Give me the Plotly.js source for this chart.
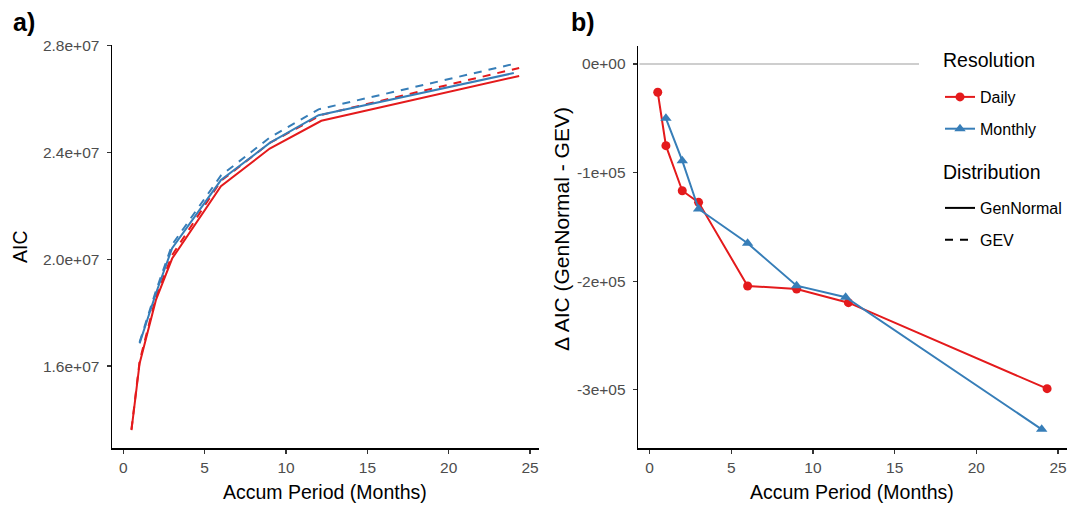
<!DOCTYPE html>
<html>
<head>
<meta charset="utf-8">
<script src="https://cdn.plot.ly/plotly-3.0.1.min.js"></script>
<style>html,body{margin:0;padding:0;background:#fff;}#chart{width:1075px;height:510px;}</style>
</head>
<body>
<div id="chart"></div>
<script>
// Accumulation periods (months)
const dailyPeriods = [0.5, 1, 2, 3, 6, 9, 12.17, 24.33];
const monthlyPeriods = [1, 2, 3, 6, 9, 12, 24];

// Panel a) AIC values
const aicDailyGenNormal = [13600000, 16100000, 18470000, 20030000, 22740000, 24150000, 25190000, 26870000];
const aicDailyGEV = [13630000, 16180000, 18590000, 20160000, 22940000, 24360000, 25410000, 27170000];
const aicMonthlyGenNormal = [16850000, 18720000, 20420000, 22970000, 24360000, 25400000, 26980000];
const aicMonthlyGEV = [16900000, 18810000, 20550000, 23140000, 24560000, 25620000, 27320000];

// Panel b) Delta AIC (GenNormal - GEV)
const deltaDaily = [-26000, -75200, -116700, -127400, -204400, -207200, -219800, -299000];
const deltaMonthly = [-50000, -89000, -133500, -165100, -204100, -214800, -336400];

// Tick labels
const aicTicks = [16000000, 20000000, 24000000, 28000000];
const aicTickText = ['1.6e+07', '2.0e+07', '2.4e+07', '2.8e+07'];
const deltaTicks = [0, -100000, -200000, -300000];
const deltaTickText = ['0e+00', '-1e+05', '-2e+05', '-3e+05'];
const xTicks = [0, 5, 10, 15, 20, 25];

const RED = '#E41A1C', BLUE = '#377EB8';
const FONT = 'Liberation Sans, Arial, sans-serif';
const W = 1075, H = 510;
const LW = 2;

const traces = [
  {x: dailyPeriods, y: aicDailyGenNormal, mode: 'lines', line: {color: RED, width: LW}, xaxis: 'x', yaxis: 'y', showlegend: false},
  {x: dailyPeriods, y: aicDailyGEV, mode: 'lines', line: {color: RED, width: LW, dash: '8px,7px'}, xaxis: 'x', yaxis: 'y', showlegend: false},
  {x: monthlyPeriods, y: aicMonthlyGenNormal, mode: 'lines', line: {color: BLUE, width: LW}, xaxis: 'x', yaxis: 'y', showlegend: false},
  {x: monthlyPeriods, y: aicMonthlyGEV, mode: 'lines', line: {color: BLUE, width: LW, dash: '8px,7px'}, xaxis: 'x', yaxis: 'y', showlegend: false},
  {x: dailyPeriods, y: deltaDaily, name: 'Daily', mode: 'lines+markers', line: {color: RED, width: LW}, marker: {symbol: 'circle', size: 9, color: RED}, xaxis: 'x2', yaxis: 'y2', legend: 'legend', legendgroup: 'daily'},
  {x: monthlyPeriods, y: deltaMonthly, name: 'Monthly', mode: 'lines+markers', line: {color: BLUE, width: LW}, marker: {symbol: 'triangle-up', size: 10, color: BLUE}, xaxis: 'x2', yaxis: 'y2', legend: 'legend', legendgroup: 'monthly'},
  {x: [null], y: [null], name: 'GenNormal', mode: 'lines', line: {color: '#000', width: LW}, xaxis: 'x2', yaxis: 'y2', legend: 'legend2', legendgroup: 'gn'},
  {x: [null], y: [null], name: 'GEV', mode: 'lines', line: {color: '#000', width: LW, dash: '8px,7px'}, xaxis: 'x2', yaxis: 'y2', legend: 'legend2', legendgroup: 'gev'}
];

const axisCommon = {
  showgrid: false, zeroline: false, showline: true, linecolor: '#000', linewidth: 1.6,
  ticks: 'outside', ticklen: 4, tickwidth: 1.3, tickcolor: '#333',
  tickfont: {family: FONT, size: 15.5, color: '#4D4D4D'}, fixedrange: true
};

function ann(text, x, y, size, angle) {
  return {text: text, xref: 'paper', yref: 'paper', x: x / W, y: 1 - y / H, xanchor: 'center', yanchor: 'middle',
          textangle: angle || 0, showarrow: false, font: {family: FONT, size: size, color: '#000'}};
}

const layout = {
  width: W, height: H,
  margin: {l: 0, r: 0, t: 0, b: 0},
  paper_bgcolor: '#fff', plot_bgcolor: '#fff',
  font: {family: FONT},
  xaxis: Object.assign({}, axisCommon, {domain: [112.1 / W, 538.7 / W], range: [-0.69, 25.53], tickvals: xTicks, anchor: 'y'}),
  yaxis: Object.assign({}, axisCommon, {domain: [1 - 448.3 / H, 1 - 45 / H], range: [12920000, 28030000], tickvals: aicTicks, ticktext: aicTickText, anchor: 'x', ticklabelstandoff: 4}),
  xaxis2: Object.assign({}, axisCommon, {domain: [638.3 / W, 1066.7 / W], range: [-0.69, 25.53], tickvals: xTicks, anchor: 'y2'}),
  yaxis2: Object.assign({}, axisCommon, {domain: [1 - 448.3 / H, 1 - 46 / H], range: [-353900, 16600], tickvals: deltaTicks, ticktext: deltaTickText, anchor: 'x2', ticklabelstandoff: 4}),
  shapes: [
    {type: 'line', xref: 'paper', yref: 'y2', x0: 639.5 / W, x1: 919 / W, y0: 0, y1: 0, line: {color: '#BEBEBE', width: 1.5}, layer: 'below'}
  ],
  legend: {
    x: 940 / W, y: 1 - 80 / H, xanchor: 'left', yanchor: 'top',
    font: {family: FONT, size: 16, color: '#000'}, bgcolor: 'rgba(0,0,0,0)',
    traceorder: 'grouped', tracegroupgap: 8, itemwidth: 30
  },
  legend2: {
    x: 940 / W, y: 1 - 191 / H, xanchor: 'left', yanchor: 'top',
    font: {family: FONT, size: 16, color: '#000'}, bgcolor: 'rgba(0,0,0,0)',
    traceorder: 'grouped', tracegroupgap: 8, itemwidth: 30
  },
  annotations: [
    ann('<b>a)</b>', 24, 22, 25),
    ann('<b>b)</b>', 583, 22, 25),
    ann('AIC', 20, 247, 19.5, -90),
    ann('Δ AIC (GenNormal - GEV)', 562, 229, 21, -90),
    ann('Accum Period (Months)', 325, 492, 19.5),
    ann('Accum Period (Months)', 852, 492, 19.5),
    {text: 'Resolution', xref: 'paper', yref: 'paper', x: 941 / W, y: 1 - 60 / H, xanchor: 'left', yanchor: 'middle', showarrow: false, font: {family: FONT, size: 19.5, color: '#000'}},
    {text: 'Distribution', xref: 'paper', yref: 'paper', x: 941 / W, y: 1 - 172 / H, xanchor: 'left', yanchor: 'middle', showarrow: false, font: {family: FONT, size: 19.5, color: '#000'}}
  ]
};

Plotly.newPlot('chart', traces, layout, {staticPlot: true, displayModeBar: false});
</script>
</body>
</html>
